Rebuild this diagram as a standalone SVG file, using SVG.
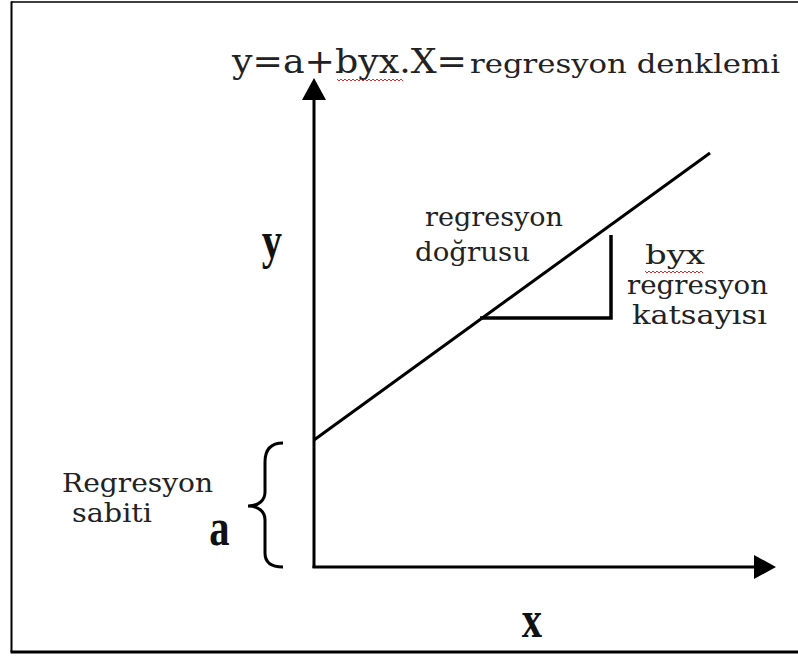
<svg xmlns="http://www.w3.org/2000/svg" width="798" height="657" viewBox="0 0 798 657">
<style>
.lbl{font-family:"DejaVu Serif","Liberation Serif",serif;fill:#222;}
.big{font-family:"Liberation Serif","Times New Roman",serif;font-weight:bold;fill:#111;}
.ln{stroke:#000;fill:none;stroke-width:3;}
.wavy{stroke:#d03030;fill:none;stroke-width:1;}
</style>
<defs>
<marker id="ah" viewBox="0 0 22 24" markerWidth="22" markerHeight="24" refX="0" refY="12" orient="auto" markerUnits="userSpaceOnUse">
<path d="M0,0 L22,12 L0,24 z" fill="#000"/>
</marker>
</defs>
<rect width="798" height="657" fill="#fff"/>
<g id="frame">
<line x1="11" y1="2" x2="798" y2="2" stroke="#000" stroke-width="1.5"/>
<line x1="11.5" y1="1.5" x2="11.5" y2="652" stroke="#000" stroke-width="2"/>
<line x1="10.5" y1="652" x2="798" y2="652" stroke="#000" stroke-width="3"/>
</g>
<g id="connectors">
<line class="ln" x1="314" y1="568" x2="314" y2="100" marker-end="url(#ah)"/>
<line class="ln" x1="312.5" y1="567" x2="754" y2="567" marker-end="url(#ah)"/>
<line class="ln" x1="314" y1="440" x2="710" y2="153"/>
<path class="ln" style="stroke-width:3.5" d="M480,318 H611 V235"/>
<path class="ln" d="M283,443 C270,443 265,450 265,462 L265,492 C265,500 259,506 248,506 C259,506 265,512 265,520 L265,553 C265,562 270,567 283,567"/>
</g>
<g id="title">
<text class="lbl" x="232" y="73" font-size="34" textLength="235" lengthAdjust="spacingAndGlyphs">y=a+byx.X=</text>
<text class="lbl" x="470" y="73" font-size="26" textLength="310" lengthAdjust="spacingAndGlyphs">regresyon denklemi</text>
<path class="wavy" d="M337,79 l2,2 l2,-2 l2,2 l2,-2 l2,2 l2,-2 l2,2 l2,-2 l2,2 l2,-2 l2,2 l2,-2 l2,2 l2,-2 l2,2 l2,-2 l2,2 l2,-2 l2,2 l2,-2 l2,2 l2,-2 l2,2 l2,-2 l2,2 l2,-2 l2,2 l2,-2 l2,2 l2,-2 l2,2 l2,-2 l2,2"/>
</g>
<g id="axis-y-label">
<text class="big" transform="translate(272,258) scale(0.78,1)" font-size="52" text-anchor="middle">y</text>
</g>
<g id="axis-x-label">
<text class="big" transform="translate(532,637) scale(0.78,1)" font-size="52" text-anchor="middle">x</text>
</g>
<g id="line-label">
<text class="lbl" x="425" y="226" font-size="26" textLength="138" lengthAdjust="spacingAndGlyphs">regresyon</text>
<text class="lbl" x="415" y="261" font-size="26" textLength="115" lengthAdjust="spacingAndGlyphs">doğrusu</text>
</g>
<g id="slope-label">
<text class="lbl" x="645" y="264" font-size="26" textLength="60" lengthAdjust="spacingAndGlyphs">byx</text>
<path class="wavy" d="M645,271 l2,2 l2,-2 l2,2 l2,-2 l2,2 l2,-2 l2,2 l2,-2 l2,2 l2,-2 l2,2 l2,-2 l2,2 l2,-2 l2,2 l2,-2 l2,2 l2,-2 l2,2 l2,-2 l2,2 l2,-2 l2,2 l2,-2 l2,2 l2,-2 l2,2 l2,-2 l2,2"/>
<text class="lbl" x="627" y="294" font-size="26" textLength="141" lengthAdjust="spacingAndGlyphs">regresyon</text>
<text class="lbl" x="632" y="324" font-size="26" textLength="135" lengthAdjust="spacingAndGlyphs">katsayısı</text>
</g>
<g id="intercept-label">
<text class="lbl" x="62" y="492" font-size="26" textLength="151" lengthAdjust="spacingAndGlyphs">Regresyon</text>
<text class="lbl" x="72" y="522" font-size="26" textLength="80" lengthAdjust="spacingAndGlyphs">sabiti</text>
<text class="big" transform="translate(219.5,545) scale(0.78,1)" font-size="52" text-anchor="middle">a</text>
</g>
</svg>
